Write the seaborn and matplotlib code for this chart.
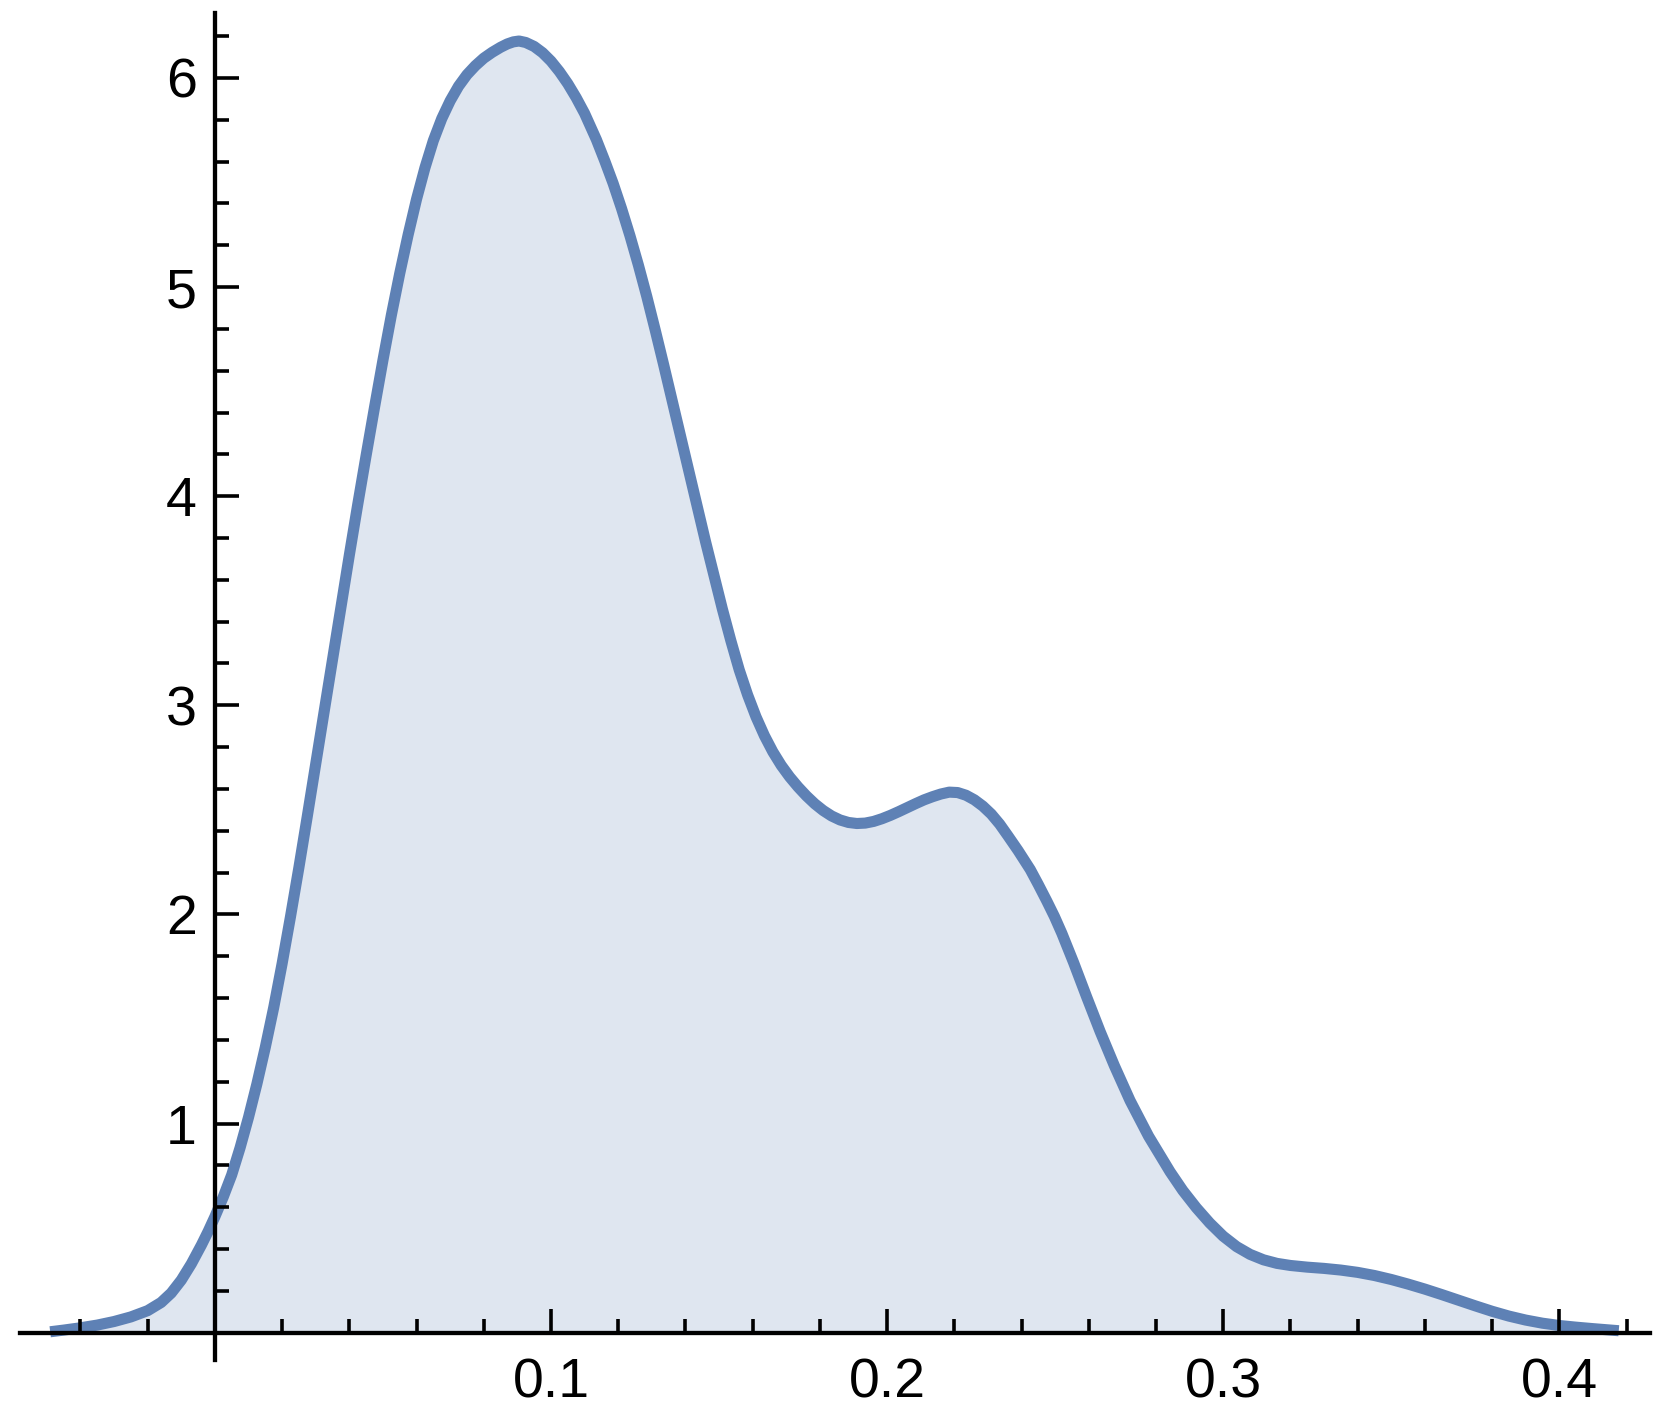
import matplotlib
matplotlib.use("Agg")
import matplotlib.pyplot as plt
import seaborn as sns
from matplotlib.ticker import FixedLocator, NullFormatter

# smooth density curve
density_x = [-0.049, -0.045, -0.040, -0.035, -0.030, -0.025, -0.020, -0.016,
             -0.013, -0.010, -0.007, -0.004, -0.002, 0.000, 0.0025, 0.0050,
             0.0075, 0.0100, 0.0125, 0.0150, 0.0175, 0.0200, 0.0225, 0.0250,
             0.0275, 0.0300, 0.0325, 0.0350, 0.0375, 0.0400, 0.0425, 0.0450,
             0.0475, 0.0500, 0.0525, 0.0550, 0.0575, 0.0600, 0.0625, 0.0650,
             0.0675, 0.0700, 0.0725, 0.0750, 0.0775, 0.0800, 0.0825, 0.0850,
             0.0870, 0.0888, 0.0905, 0.0925, 0.0950, 0.0975, 0.1000, 0.1025,
             0.1050, 0.1075, 0.1100, 0.1135, 0.1160, 0.1185, 0.1210, 0.1235,
             0.1260, 0.1285, 0.1310, 0.1335, 0.1360, 0.1385, 0.1410, 0.1435,
             0.1460, 0.1485, 0.1510, 0.1535, 0.1560, 0.1585, 0.1610, 0.1635,
             0.1660, 0.1685, 0.1710, 0.1735, 0.1760, 0.1785, 0.1810, 0.1835,
             0.1860, 0.1885, 0.1910, 0.1935, 0.1960, 0.1985, 0.2010, 0.2035,
             0.2060, 0.2085, 0.2110, 0.2135, 0.2160, 0.2185, 0.2210, 0.2235,
             0.2260, 0.2285, 0.2310, 0.2335, 0.2360, 0.2390, 0.2426, 0.2450,
             0.2475, 0.2498, 0.2520, 0.2555, 0.2594, 0.2634, 0.2676, 0.2723,
             0.2778, 0.2842, 0.2880, 0.2920, 0.2960, 0.3000, 0.3040, 0.3080,
             0.3120, 0.3160, 0.3200, 0.3250, 0.3300, 0.3350, 0.3400, 0.3450,
             0.3500, 0.3550, 0.3600, 0.3650, 0.3700, 0.3750, 0.3800, 0.3850,
             0.3900, 0.3950, 0.4000, 0.4050, 0.4100, 0.4177]
density_y = [0.005, 0.013, 0.024, 0.037, 0.054, 0.076, 0.106, 0.145,
             0.190, 0.252, 0.330, 0.420, 0.485, 0.555, 0.650, 0.755,
             0.885, 1.030, 1.190, 1.365, 1.555, 1.765, 1.990, 2.225,
             2.470, 2.720, 2.970, 3.220, 3.470, 3.718, 3.960, 4.195,
             4.425, 4.650, 4.865, 5.065, 5.250, 5.420, 5.570, 5.700,
             5.805, 5.890, 5.960, 6.015, 6.058, 6.094, 6.122, 6.146,
             6.162, 6.172, 6.176, 6.169, 6.150, 6.120, 6.080, 6.030,
             5.972, 5.905, 5.830, 5.705, 5.603, 5.495, 5.375, 5.245,
             5.105, 4.955, 4.795, 4.630, 4.460, 4.290, 4.120, 3.950,
             3.782, 3.620, 3.460, 3.310, 3.170, 3.050, 2.945, 2.855,
             2.778, 2.713, 2.658, 2.610, 2.567, 2.529, 2.497, 2.471,
             2.452, 2.440, 2.435, 2.437, 2.445, 2.458, 2.474, 2.492,
             2.511, 2.530, 2.548, 2.563, 2.576, 2.585, 2.583, 2.570,
             2.548, 2.518, 2.480, 2.432, 2.375, 2.305, 2.215, 2.143,
             2.065, 1.990, 1.910, 1.770, 1.605, 1.440, 1.278, 1.110,
             0.940, 0.770, 0.680, 0.598, 0.525, 0.462, 0.412, 0.375,
             0.349, 0.332, 0.322, 0.314, 0.308, 0.300, 0.289, 0.274,
             0.255, 0.233, 0.209, 0.183, 0.156, 0.129, 0.103, 0.080,
             0.061, 0.046, 0.035, 0.027, 0.020, 0.010]

x_ticks = [0.1, 0.2, 0.3, 0.4]
x_labels = ["0.1", "0.2", "0.3", "0.4"]
y_ticks = [1, 2, 3, 4, 5, 6]
y_labels = ["1", "2", "3", "4", "5", "6"]

sns.set_style("white")
plt.rcParams['font.family'] = ['Liberation Sans', 'DejaVu Sans']

fig = plt.figure(figsize=(16.62, 14.13), dpi=100)
ax = fig.add_axes([0.012, 0.0375, 0.9808, 0.9533])

line_color = '#5e81b5'
ax.fill_between(density_x, density_y, 0, color='#dfe6f0', lw=0, zorder=1)
sns.lineplot(x=density_x, y=density_y, ax=ax, color=line_color, lw=8,
             sort=False, estimator=None, zorder=2)
ax.lines[-1].set_solid_capstyle('butt')
ax.lines[-1].set_solid_joinstyle('round')

ax.set_xlim(-0.058, 0.427)
ax.set_ylim(-0.13, 6.31)
ax.set_axisbelow(False)

# axes crossing at the origin
for side in ['top', 'right']:
    ax.spines[side].set_visible(False)
for side in ['left', 'bottom']:
    ax.spines[side].set_position(('data', 0))
    ax.spines[side].set_linewidth(3.1)
    ax.spines[side].set_color('black')
    ax.spines[side].set_zorder(3)

ax.set_xticks(x_ticks)
ax.set_xticklabels(x_labels)
ax.set_yticks(y_ticks)
ax.set_yticklabels(y_labels)

x_minor = [round(-0.04 + 0.02 * i, 2) for i in range(24)]
x_minor = [v for v in x_minor if v != 0 and v not in x_ticks]
y_minor = [round(0.2 * i, 1) for i in range(1, 32)]
y_minor = [v for v in y_minor if v % 1 != 0]
ax.xaxis.set_minor_locator(FixedLocator(x_minor))
ax.yaxis.set_minor_locator(FixedLocator(y_minor))
ax.xaxis.set_minor_formatter(NullFormatter())
ax.yaxis.set_minor_formatter(NullFormatter())

ax.tick_params(which='both', bottom=True, left=True, top=False, right=False)
ax.tick_params(which='major', direction='in', length=17, width=2.6, labelsize=40,
               color='black', labelcolor='black')
ax.tick_params(which='minor', direction='in', length=10, width=2.6, color='black')
ax.tick_params(axis='x', which='major', pad=18)
ax.tick_params(axis='y', which='major', pad=13)
ax.grid(False)

fig.savefig("out.png", dpi=100)
